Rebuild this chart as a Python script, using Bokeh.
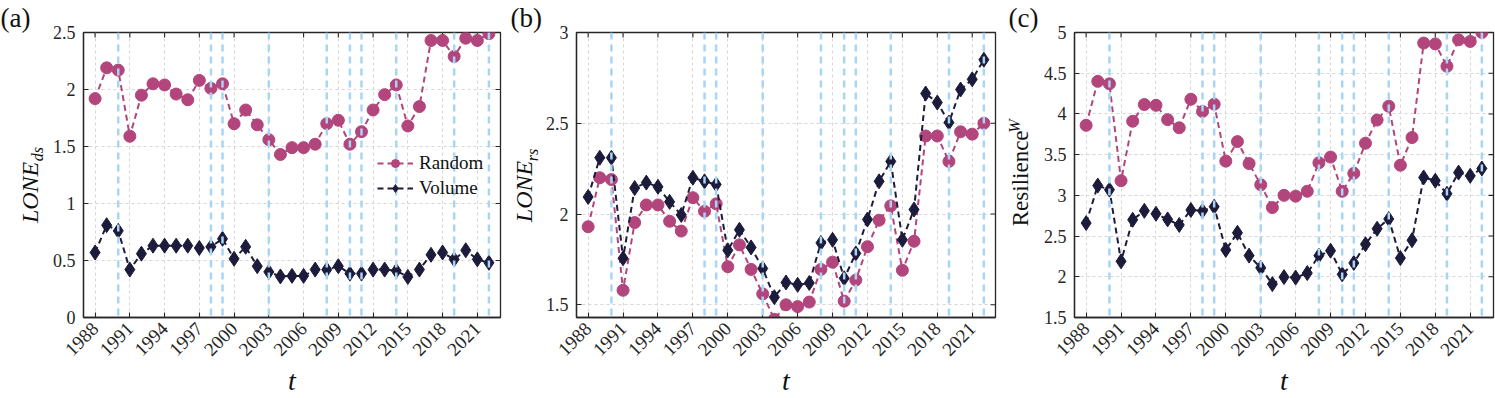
import math
from bokeh.plotting import figure
from bokeh.models import Range1d, FixedTicker, Span, PrintfTickFormatter
from bokeh.core.properties import value
from bokeh.layouts import row
from bokeh.embed import file_html
from bokeh.resources import INLINE

# ---------------- data ----------------
years = [1988, 1989, 1990, 1991, 1992, 1993, 1994, 1995, 1996, 1997, 1998, 1999,
         2000, 2001, 2002, 2003, 2004, 2005, 2006, 2007, 2008, 2009, 2010, 2011,
         2012, 2013, 2014, 2015, 2016, 2017, 2018, 2019, 2020, 2021, 2022]
x_ticks = [1988, 1991, 1994, 1997, 2000, 2003, 2006, 2009, 2012, 2015, 2018, 2021]
event_years = [1990, 1998, 1999, 2003, 2008, 2010, 2011, 2014, 2019, 2022]

a_random = [1.92, 2.19, 2.17, 1.59, 1.95, 2.05, 2.04, 1.96, 1.91, 2.08, 2.01, 2.05,
            1.70, 1.82, 1.69, 1.56, 1.43, 1.49, 1.49, 1.52, 1.70, 1.73, 1.52, 1.63,
            1.82, 1.955, 2.04, 1.68, 1.85, 2.43, 2.43, 2.29, 2.45, 2.43, 2.49]
a_volume = [0.57, 0.81, 0.76, 0.42, 0.56, 0.63, 0.63, 0.63, 0.63, 0.61, 0.62, 0.69,
            0.515, 0.62, 0.45, 0.40, 0.36, 0.365, 0.365, 0.42, 0.42, 0.45, 0.385, 0.385,
            0.42, 0.42, 0.41, 0.356, 0.42, 0.55, 0.57, 0.51, 0.59, 0.51, 0.48]
b_random = [1.93, 2.20, 2.19, 1.58, 1.953, 2.05, 2.05, 1.96, 1.906, 2.09, 2.015, 2.056,
            1.71, 1.83, 1.695, 1.56, 1.42, 1.50, 1.49, 1.515, 1.695, 1.735, 1.52, 1.636,
            1.82, 1.966, 2.045, 1.69, 1.85, 2.43, 2.43, 2.29, 2.453, 2.44, 2.50]
b_volume = [2.094, 2.31, 2.31, 1.756, 2.143, 2.173, 2.15, 2.067, 1.995, 2.20, 2.18, 2.163,
            1.80, 1.913, 1.816, 1.70, 1.542, 1.623, 1.61, 1.62, 1.841, 1.858, 1.646, 1.783,
            1.97, 2.18, 2.29, 1.858, 2.025, 2.664, 2.614, 2.504, 2.686, 2.742, 2.85]
c_random = [3.86, 4.40, 4.37, 3.18, 3.91, 4.115, 4.106, 3.93, 3.83, 4.18, 4.03, 4.12,
            3.42, 3.66, 3.39, 3.13, 2.85, 3.00, 2.99, 3.05, 3.40, 3.47, 3.05, 3.27,
            3.64, 3.925, 4.095, 3.37, 3.71, 4.87, 4.86, 4.585, 4.91, 4.89, 5.00]
c_volume = [2.66, 3.12, 3.07, 2.19, 2.70, 2.81, 2.774, 2.705, 2.636, 2.82, 2.81, 2.86,
            2.33, 2.54, 2.26, 2.11, 1.91, 1.996, 1.99, 2.045, 2.26, 2.32, 2.03, 2.17,
            2.40, 2.59, 2.71, 2.23, 2.45, 3.22, 3.18, 3.02, 3.28, 3.24, 3.33]

a_yticks = [0, 0.5, 1, 1.5, 2, 2.5]
b_yticks = [1.5, 2, 2.5, 3]
c_yticks = [1.5, 2, 2.5, 3, 3.5, 4, 4.5, 5]

series_names = ["Random", "Volume"]
panel_letters = ["(a)", "(b)", "(c)"]
ylabel_main = ["LONE", "LONE", "Resilience"]
ylabel_extra = ["ds", "rs", "W"]
xlabel = "t"

# ---------------- style ----------------
FONT = "Liberation Serif"
PINK = "#B2457C"
NAVY = "#1C1B3B"
BLUE = "#A8D4F5"
AXIS = "#262626"
GRID = "#D6D6D6"
TXT = "#111111"
H = 398
TOP = 29
BOTTOM = 79


def label_fig(width, yrange, letter, letter_x, main, main_style, main_size, main_x, main_y,
              extra, extra_x, extra_y):
    """Narrow strip left of a panel that carries its letter and y-axis title."""
    f = figure(width=width, height=H, x_range=Range1d(0, width), y_range=Range1d(*yrange),
               x_axis_type=None, y_axis_type=None, output_backend="svg",
               toolbar_location=None, min_border_left=0, min_border_right=0,
               min_border_top=TOP, min_border_bottom=BOTTOM, title=letter)
    f.title.text_font = FONT
    f.title.text_font_size = "27px"
    f.title.text_font_style = "normal"
    f.title.text_color = TXT
    f.title.align = "left"
    f.title.offset = letter_x
    f.title.standoff = 0
    f.outline_line_color = None
    f.background_fill_color = "white"
    f.border_fill_color = "white"
    f.text(x=[main_x], y=[main_y], text=[main], angle=math.pi / 2,
           text_font=value(FONT), text_font_style=main_style, text_font_size=main_size,
           text_color=TXT, text_align="left", text_baseline="middle")
    f.text(x=[extra_x], y=[extra_y], text=[extra], angle=math.pi / 2,
           text_font=value(FONT), text_font_style="italic", text_font_size="16px",
           text_color=TXT, text_align="left", text_baseline="middle")
    return f


def make_panel(width, left, right, yrange, yticks, rnd, vol, with_legend=False):
    p = figure(width=width, height=H, title=None,
               x_range=Range1d(1987, 2023), y_range=Range1d(*yrange),
               output_backend="svg", toolbar_location=None,
               min_border_left=left, min_border_right=right,
               min_border_top=TOP, min_border_bottom=BOTTOM)
    p.background_fill_color = "white"
    p.border_fill_color = "white"
    p.outline_line_color = AXIS
    p.outline_line_width = 1.3

    p.xaxis.ticker = FixedTicker(ticks=x_ticks)
    p.yaxis.ticker = FixedTicker(ticks=yticks)
    p.xaxis.formatter = PrintfTickFormatter(format="%d")
    p.yaxis.formatter = PrintfTickFormatter(format="%g")

    for ax in p.axis:
        ax.axis_line_color = AXIS
        ax.axis_line_width = 1.3
        ax.major_tick_line_color = AXIS
        ax.major_tick_line_width = 1.1
        ax.major_tick_in = 5
        ax.major_tick_out = 0
        ax.minor_tick_line_color = None
        ax.major_label_text_font = FONT
        ax.major_label_text_color = AXIS
        ax.major_label_text_font_size = "18px"

    bottom = p.xaxis[0]
    bottom.major_label_text_font_size = "19px"
    bottom.major_label_orientation = math.pi / 4
    bottom.major_label_standoff = 8
    bottom.axis_label = xlabel
    bottom.axis_label_text_font = FONT
    bottom.axis_label_text_font_style = "italic"
    bottom.axis_label_text_font_size = "28px"
    bottom.axis_label_text_color = TXT
    bottom.axis_label_standoff = 0
    p.yaxis[0].major_label_standoff = 8

    for g in p.grid:
        g.grid_line_color = GRID
        g.grid_line_dash = "3 3"
        g.grid_line_width = 1

    # inward box ticks on the top and right edges (half of each dash lies inside the frame)
    p.scatter(x_ticks, [yrange[1]] * len(x_ticks), marker="dash", size=10, angle=math.pi / 2,
              line_color=AXIS, line_width=1.1)
    p.scatter([2023] * len(yticks), yticks, marker="dash", size=10,
              line_color=AXIS, line_width=1.1)

    kw_r = dict(legend_label=series_names[0]) if with_legend else {}
    kw_v = dict(legend_label=series_names[1]) if with_legend else {}
    p.line(years, rnd, line_color=PINK, line_width=2, line_dash="6 4", **kw_r)
    p.scatter(years, rnd, marker="circle", size=12, fill_color=PINK, line_color=PINK, **kw_r)
    p.line(years, vol, line_color=NAVY, line_width=2, line_dash="6 4", **kw_v)
    p.scatter(years, vol, marker="diamond", size=15, fill_color=NAVY, line_color=NAVY, **kw_v)

    for ev in event_years:
        p.add_layout(Span(location=ev, dimension="height", line_color=BLUE,
                          line_width=2.5, line_dash="7 5"))

    if with_legend:
        lg = p.legend[0]
        lg.location = (294, 118)
        lg.background_fill_alpha = 0
        lg.border_line_alpha = 0
        lg.padding = 0
        lg.margin = 0
        lg.spacing = 3
        lg.glyph_width = 36
        lg.glyph_height = 20
        lg.label_height = 20
        lg.label_standoff = 6
        lg.label_text_font = FONT
        lg.label_text_font_size = "19px"
        lg.label_text_color = TXT
    return p


a_range = (0, 2.5)
b_range = (1.43, 3)
c_range = (1.5, 5)

la = label_fig(46, a_range, panel_letters[0], 0, ylabel_main[0], "italic", "24px", 29, 0.828,
               ylabel_extra[0], 37, 1.371)
pa = make_panel(459, 37, 5, a_range, a_yticks, a_random, a_volume, with_legend=True)
lb = label_fig(37, b_range, panel_letters[1], 5, ylabel_main[1], "italic", "24px", 18, 1.955,
               ylabel_extra[1], 27, 2.291)
pb = make_panel(458, 34, 5, b_range, b_yticks, b_random, b_volume)
lc = label_fig(40, c_range, panel_letters[2], 8, ylabel_main[2], "normal", "23px", 20, 2.621,
               ylabel_extra[2], 14, 3.768)
pc = make_panel(455, 33, 2, c_range, c_yticks, c_random, c_volume)

layout = row(la, pa, lb, pb, lc, pc, spacing=0)
open("out.html", "w").write(file_html(layout, INLINE))
